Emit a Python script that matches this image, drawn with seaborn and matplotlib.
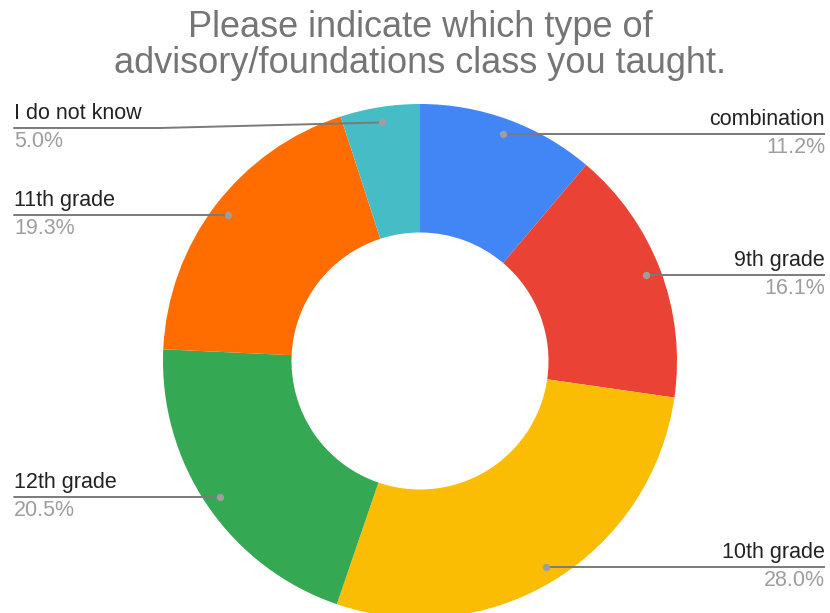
import numpy as np
import matplotlib
matplotlib.use("Agg")
import matplotlib.pyplot as plt
import seaborn as sns

categories = ["combination", "9th grade", "10th grade", "12th grade", "11th grade", "I do not know"]
values = [11.2, 16.1, 28.0, 20.5, 19.3, 5.0]
pct_labels = ["11.2%", "16.1%", "28.0%", "20.5%", "19.3%", "5.0%"]
colors = ["#4285F4", "#EA4335", "#FBBC04", "#34A853", "#FF6D01", "#46BDC6"]
title = "Please indicate which type of\nadvisory/foundations class you taught."

sns.set_theme(style="white")
plt.rcParams["font.family"] = ["Liberation Sans", "DejaVu Sans"]

W, H = 830, 613
fig = plt.figure(figsize=(W / 100, H / 100), dpi=100)
ax = fig.add_axes([0, 0, 1, 1])

cx, cy = 420, H - 361
R = 257
ax.pie(values, colors=colors, startangle=90, counterclock=False,
       radius=R, center=(cx, cy), frame=True,
       wedgeprops=dict(width=R * 0.5, linewidth=0))
ax.set_xlim(0, W)
ax.set_ylim(0, H)
ax.set_aspect("equal")
ax.axis("off")

total = sum(values)
cum = 0.0
for name, v, pl in zip(categories, values, pct_labels):
    mid = (cum + v / 2) / total
    cum += v
    theta = np.pi / 2 - 2 * np.pi * mid
    r_dot = R * 0.94
    dx, dy = cx + r_dot * np.cos(theta), cy + r_dot * np.sin(theta)
    right = np.cos(theta) >= 0
    if right:
        lx, ly = 825, dy
        ax.plot([dx, lx], [dy, dy], color="#7a7a7a", lw=1.4, solid_capstyle="butt", zorder=3)
        ha = "right"
    else:
        lx = 14
        ly = min(dy, H - 128)
        if abs(ly - dy) > 0.5:
            ax.plot([lx, 160, dx], [ly, ly, dy], color="#7a7a7a", lw=1.4, zorder=3)
        else:
            ax.plot([lx, dx], [ly, ly], color="#7a7a7a", lw=1.4, zorder=3)
        ha = "left"
    ax.scatter([dx], [dy], s=28, color="#9e9e9e", zorder=4, linewidths=0)
    ax.text(lx, ly + 4, name, ha=ha, va="bottom", fontsize=15.5, color="#222222")
    ax.text(lx, ly - 3, pl, ha=ha, va="top", fontsize=15.5, color="#9e9e9e")

ax.text(cx, H - 10, title, ha="center", va="top", fontsize=26, color="#757575",
        linespacing=1.02)

fig.savefig("out.png", dpi=100, facecolor="white")
